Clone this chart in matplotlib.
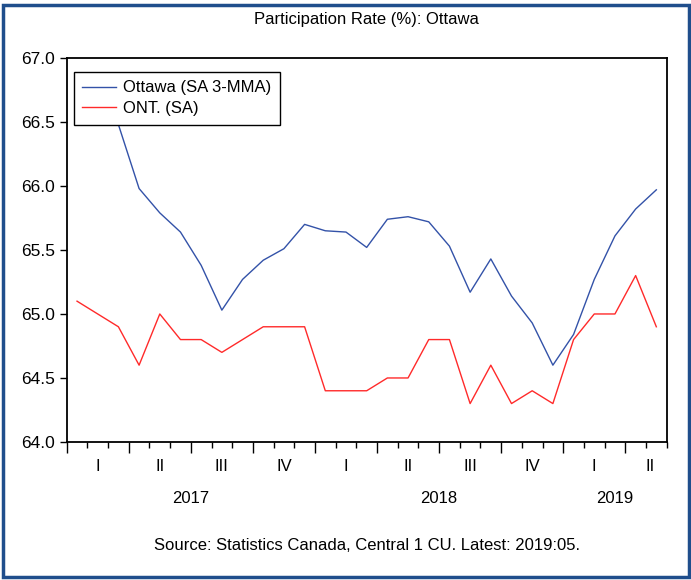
import matplotlib.pyplot as plt
from matplotlib.patches import Rectangle
from matplotlib.ticker import MultipleLocator, FixedLocator

plt.rcParams['font.family'] = ['Liberation Sans', 'DejaVu Sans']

# monthly data 2017:01 - 2019:05
ottawa = [66.8, 66.7, 66.48, 65.98, 65.79, 65.64, 65.38, 65.03, 65.27, 65.42,
          65.51, 65.70, 65.65, 65.64, 65.52, 65.74, 65.76, 65.72, 65.53, 65.17,
          65.43, 65.14, 64.93, 64.60, 64.84, 65.27, 65.61, 65.82, 65.97]
ontario = [65.1, 65.0, 64.9, 64.6, 65.0, 64.8, 64.8, 64.7, 64.8, 64.9,
           64.9, 64.9, 64.4, 64.4, 64.4, 64.5, 64.5, 64.8, 64.8, 64.3,
           64.6, 64.3, 64.4, 64.3, 64.8, 65.0, 65.0, 65.3, 64.9]
quarters = ['I', 'II', 'III', 'IV', 'I', 'II', 'III', 'IV', 'I', 'II']
quarter_pos = [1.5, 4.5, 7.5, 10.5, 13.5, 16.5, 19.5, 22.5, 25.5, 28.2]
years = ['2017', '2018', '2019']
year_pos = [6, 18, 26.5]

x = [i + 0.5 for i in range(len(ottawa))]

fig = plt.figure(figsize=(6.91, 5.80), dpi=100)
ax = fig.add_axes([0.0965, 0.238, 0.8683, 0.662])

ax.plot(x, ottawa, color='#3352a8', lw=1.0, label='Ottawa (SA 3-MMA)')
ax.plot(x, ontario, color='#ff2a2a', lw=1.0, label='ONT. (SA)')

ax.set_xlim(0, 29)
ax.set_ylim(64, 67)
ax.yaxis.set_major_locator(MultipleLocator(0.5))
ax.yaxis.set_major_formatter(lambda v, p: f'{v:.1f}')
ax.tick_params(axis='y', direction='out', length=5, width=1, labelsize=12.5, pad=3.5)

ax.xaxis.set_major_locator(FixedLocator(range(0, 30, 3)))
ax.xaxis.set_minor_locator(FixedLocator(range(0, 30)))
ax.tick_params(axis='x', which='major', direction='out', length=8, width=1, labelbottom=False)
ax.tick_params(axis='x', which='minor', direction='out', length=4, width=1)

for sp in ax.spines.values():
    sp.set_linewidth(1.3)

for q, p in zip(quarters, quarter_pos):
    ax.text(p, -0.064, q, transform=ax.get_xaxis_transform(), ha='center', va='center',
            fontsize=12, family=['Liberation Sans Narrow', 'Liberation Sans'])
for yr, p in zip(years, year_pos):
    ax.text(p, -0.148, yr, transform=ax.get_xaxis_transform(), ha='center', va='center',
            fontsize=12, family=['Liberation Sans Narrow', 'Liberation Sans'])

leg = ax.legend(loc='upper left', bbox_to_anchor=(0.012, 0.9635), borderaxespad=0,
                fontsize=12, frameon=True, fancybox=False, framealpha=1, edgecolor='black',
                handlelength=2.0, borderpad=0.5, labelspacing=0.35, handletextpad=0.45)
leg.get_frame().set_linewidth(1.0)

fig.text(0.531, 0.966, 'Participation Rate (%): Ottawa', ha='center', va='center', fontsize=12)
fig.text(0.531, 0.059, 'Source: Statistics Canada, Central 1 CU. Latest: 2019:05.',
         ha='center', va='center', fontsize=12, family=['Liberation Sans Narrow', 'Liberation Sans'])

fig.patches.append(Rectangle((0.005, 0.005), 0.992, 0.986, transform=fig.transFigure,
                             fill=False, edgecolor='#1f4e8c', lw=2.5))

fig.savefig('out.png', dpi=100)
